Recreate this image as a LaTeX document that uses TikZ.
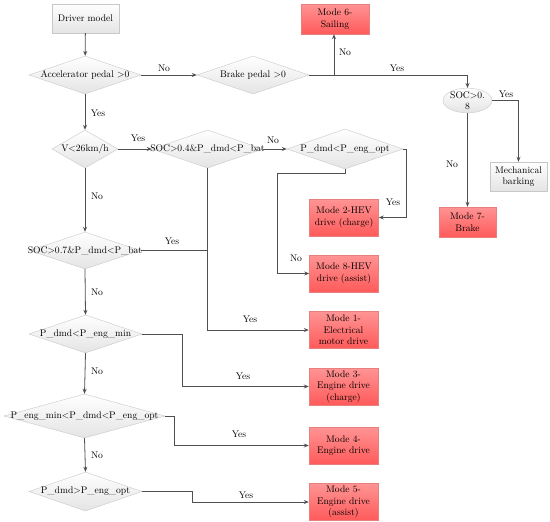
\documentclass[tikz,border=0pt]{standalone}
\usetikzlibrary{shapes.geometric,arrows.meta}
\definecolor{lineg}{HTML}{505050}
\definecolor{modetop}{HTML}{FF9494}
\definecolor{modebot}{HTML}{FF5A5A}
\definecolor{modeedge}{HTML}{E88080}
\definecolor{grayedge}{HTML}{C8C8C8}
\definecolor{graybot}{HTML}{E4E4E4}
\newcommand{\ctext}[1]{\makebox[0pt]{#1}}
\tikzset{
  cond/.style={diamond, draw=grayedge, top color=white, bottom color=graybot, inner sep=0pt, aspect=1},
  mode/.style={rectangle, draw=modeedge, top color=modetop, bottom color=modebot, align=center, minimum width=69pt, minimum height=37pt, inner sep=1pt},
  plain/.style={rectangle, draw=grayedge, top color=white, bottom color=graybot, align=center, inner sep=1pt},
  lbl/.style={inner sep=0pt},
  link/.style={draw=lineg, line width=0.8pt},
  arr/.style={link, -{Stealth[length=5pt,width=4pt]}}
}
\begin{document}
\begin{tikzpicture}[x=1pt,y=-1pt,font=\fontsize{9.6}{11.5}\selectfont]
\useasboundingbox (0,0) rectangle (550,522);
% left column
\node[plain, minimum width=67pt, minimum height=29pt] (drv) at (85.5,18.5) {Driver model};
\node[cond, minimum width=112pt, minimum height=38pt] (acc) at (85,75) {\ctext{Accelerator pedal >0}};
\node[cond, minimum width=66pt, minimum height=38pt] (v26) at (85,149) {\ctext{V<26km/h}};
\node[cond, minimum width=111pt, minimum height=37pt] (soc7) at (85,250.5) {\ctext{SOC>0.7\&P\_dmd<P\_bat}};
\node[cond, minimum width=113pt, minimum height=38pt] (pmin) at (85.5,334) {\ctext{P\_dmd<P\_eng\_min}};
\node[cond, minimum width=161pt, minimum height=44pt] (pmid) at (84.5,416) {\ctext{P\_eng\_min<P\_dmd<P\_eng\_opt}};
\node[cond, minimum width=113pt, minimum height=39pt] (pmax) at (85.5,491.5) {\ctext{P\_dmd>P\_eng\_opt}};
% middle
\node[cond, minimum width=112pt, minimum height=38pt] (brk) at (253,75) {\ctext{Brake pedal >0}};
\node[cond, minimum width=111pt, minimum height=38pt] (soc4) at (207.5,149) {\ctext{SOC>0.4\&P\_dmd<P\_bat}};
\node[cond, minimum width=116pt, minimum height=40pt] (opt) at (345,149) {\ctext{P\_dmd<P\_eng\_opt}};
% modes
\node[mode, minimum width=68pt, minimum height=30pt] (m6) at (335,19) {Mode 6-\\Sailing};
\node[mode] (m2) at (344,217.5) {Mode 2-HEV\\drive (charge)};
\node[mode] (m8) at (344,273.5) {Mode 8-HEV\\drive (assist)};
\node[mode] (m1) at (343.5,330) {Mode 1-\\Electrical\\motor drive};
\node[mode] (m3) at (343.5,386.5) {Mode 3-\\Engine drive\\(charge)};
\node[mode] (m4) at (343.5,445.5) {Mode 4-\\Engine drive};
\node[mode] (m5) at (343.5,502) {Mode 5-\\Engine drive\\(assist)};
% right
\node[ellipse, draw=grayedge, top color=white, bottom color=graybot, minimum width=47pt, minimum height=23pt, inner sep=0pt, align=center, font=\fontsize{9.6}{10.5}\selectfont] (soc8) at (467.5,100.5) {SOC>0.\\8};
\node[plain, minimum width=57pt, minimum height=29pt] (mech) at (518.5,176.5) {Mechanical\\barking};
\node[mode, minimum width=57pt, minimum height=30pt] (m7) at (467.5,222) {Mode 7-\\Brake};
\coordinate (j6) at (334,75);
\coordinate (k8) at (277,173);

\draw[arr] (drv) -- (acc);
\draw[arr] (acc.east) -- (brk.west);
\draw[arr] (brk.east) -| (soc8.north);
\draw[arr] (j6) -- (j6 |- m6.south);
\draw[arr] (soc8.east) -| (mech.north);
\draw[arr] (soc8.south) -- (m7.north);
\draw[arr] (acc.south) -- (v26.north);
\draw[arr] (v26.east) -- (soc4.west);
\draw[arr] (soc4.east) -- (opt.west);
\draw[arr] (opt.east) -- ++(3,0) |- (m2.east);
\draw[arr] (opt.south) |- (k8) |- (m8.west);
\draw[arr] (v26.south) -- (soc7.north);
\draw[arr] (soc4.south) |- (m1.west);
\draw[link] (soc7.east) -- (soc4.south |- soc7.east);
\draw[arr] (soc7.south) -- (pmin.north);
\draw[arr] (pmin.east) -- ++(40,0) |- (m3.west);
\draw[arr] (pmin.south) -- (pmid.north);
\draw[arr] (pmid.east) -- ++(9,0) |- (m4.west);
\draw[arr] (pmid.south) -- (pmax.north);
\draw[arr] (pmax.east) -- ++(50,0) |- (m5.west);

\node[lbl] (n1) at (164,68) {No};
\node[lbl] (y1) at (397,68) {Yes};
\node[lbl] (n2) at (345,52) {No};
\node[lbl] (y2) at (506,94) {Yes};
\node[lbl] (n3) at (452,164) {No};
\node[lbl] (y3) at (98,113) {Yes};
\node[lbl] (y4) at (138,138) {Yes};
\node[lbl] (n4) at (273,140) {No};
\node[lbl] (y5) at (393,202) {Yes};
\node[lbl] (n5) at (296,258) {No};
\node[lbl] (n6) at (97,196) {No};
\node[lbl] (y6) at (172,241) {Yes};
\node[lbl] (y7) at (250,319) {Yes};
\node[lbl] (n7) at (97,292) {No};
\node[lbl] (y8) at (243,376) {Yes};
\node[lbl] (n8) at (97,371) {No};
\node[lbl] (y9) at (239,434) {Yes};
\node[lbl] (n9) at (97,455) {No};
\node[lbl] (y10) at (246,495) {Yes};
\end{tikzpicture}
\end{document}
